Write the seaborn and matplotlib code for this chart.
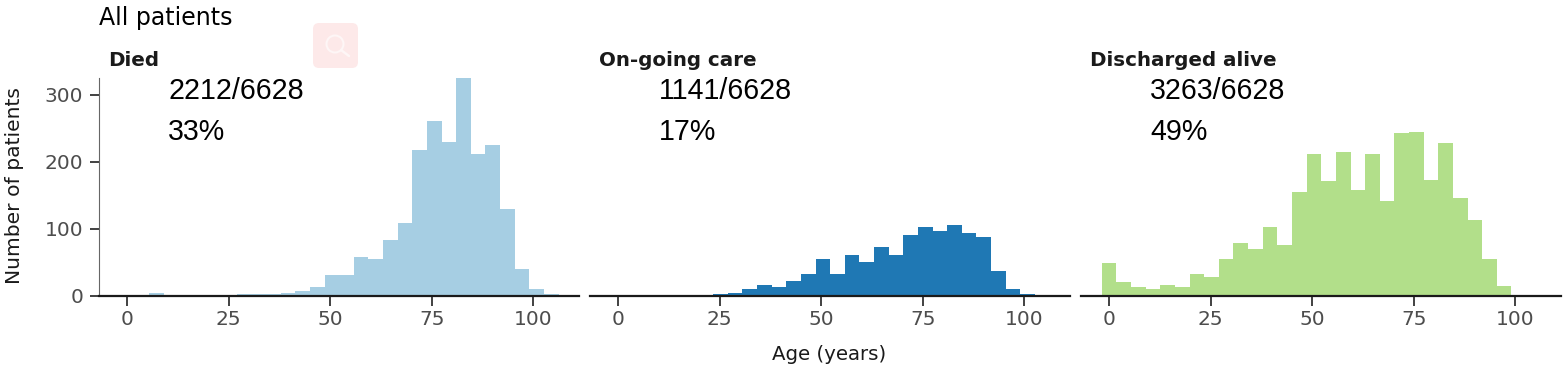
import numpy as np
import pandas as pd
import seaborn as sns
import matplotlib.pyplot as plt
from matplotlib.patches import FancyBboxPatch, Circle
from matplotlib.lines import Line2D

bin_width = 3.6
outcomes = ["Died", "On-going care", "Discharged alive"]
colours = ["#A6CEE3", "#1F78B4", "#B2DF8A"]
fractions = ["2212/6628", "1141/6628", "3263/6628"]
percents = ["33%", "17%", "49%"]

died = [0, 1, 4, 0, 0, 0, 0, 0, 2, 2, 2, 4, 7, 13, 30, 30, 58, 54, 83, 109,
        218, 261, 230, 325, 211, 225, 129, 40, 9, 2, 0]
ongoing = [1, 1, 1, 0, 0, 0, 1, 2, 4, 10, 16, 12, 21, 32, 54, 32, 61, 50, 72, 60,
           91, 102, 96, 106, 93, 87, 36, 10, 2, 0, 0]
discharged = [49, 20, 13, 9, 16, 12, 32, 28, 55, 78, 70, 103, 75, 155, 211, 171, 215, 158,
              211, 141, 243, 244, 173, 228, 145, 113, 55, 14, 0, 0, 0]
counts = [died, ongoing, discharged]

ages = np.arange(31) * bin_width

sns.set_theme(style="ticks")
plt.rcParams["font.family"] = "DejaVu Sans"

fig, axes = plt.subplots(1, 3, figsize=(15.68, 3.83), dpi=100, sharey=True)
fig.subplots_adjust(left=99 / 1568, right=1561 / 1568, top=1 - 78 / 383, bottom=1 - 295.5 / 383, wspace=0.0233)

for i, ax in enumerate(axes):
    df = pd.DataFrame({"age": ages, "n": counts[i]})
    sns.histplot(data=df, x="age", weights="n", binwidth=bin_width, binrange=(-bin_width / 2, ages[-1] + bin_width / 2),
                 color=colours[i], alpha=1, linewidth=0, ax=ax)
    ax.set_xlim(-6.9, 111.2)
    ax.set_ylim(0, 325)
    ax.set_xticks([0, 25, 50, 75, 100])
    ax.set_yticks([0, 100, 200, 300])
    ax.set_xlabel("")
    ax.set_ylabel("")
    ax.tick_params(axis="x", labelsize=14.5, labelcolor="#4d4d4d", color="#333333", width=1.3, length=7, pad=3.5)
    ax.tick_params(axis="y", labelsize=14.5, labelcolor="#4d4d4d", color="#333333", width=1.3, length=6.5, pad=5)
    ax.text(0.018, 1.08, outcomes[i], transform=ax.transAxes, fontsize=14.3, fontweight="bold", color="#1a1a1a", va="center")
    ax.text(10.1, 305.5, fractions[i], fontsize=20.6, family="Liberation Sans", color="black", va="center")
    ax.text(10.1, 245, percents[i], fontsize=20.6, family="Liberation Sans", color="black", va="center")
    sns.despine(ax=ax, left=i > 0)
    ax.spines["bottom"].set_linewidth(1.6)
    ax.spines["bottom"].set_color("#1a1a1a")
    if i > 0:
        ax.tick_params(axis="y", left=False)
    else:
        ax.spines["left"].set_linewidth(0.8)
        ax.spines["left"].set_color("#666666")

fig.text(99 / 1568, 1 - 18 / 383, "All patients", fontsize=17, color="black", va="center")
fig.text(829.5 / 1568, 1 - 355 / 383, "Age (years)", fontsize=14.2, color="#1a1a1a", ha="center", va="center")
fig.text(15 / 1568, 1 - 186 / 383, "Number of patients", fontsize=14.6, color="#1a1a1a", rotation=90, ha="center", va="center")

# pale search badge sitting over the figure
overlay = fig.add_axes([0, 0, 1, 1], zorder=5)
overlay.set_xlim(0, 1568)
overlay.set_ylim(383, 0)
overlay.axis("off")
overlay.add_patch(FancyBboxPatch((317, 27), 37, 37, boxstyle="round,pad=4,rounding_size=6", fc="#FDE9E9", ec="none"))
overlay.add_patch(Circle((335, 44), 8.5, fc="none", ec="#FEF6F6", lw=1.5))
overlay.add_line(Line2D([341, 349], [50, 56], color="#FEF6F6", lw=1.8))

fig.savefig("out.png", dpi=100)
